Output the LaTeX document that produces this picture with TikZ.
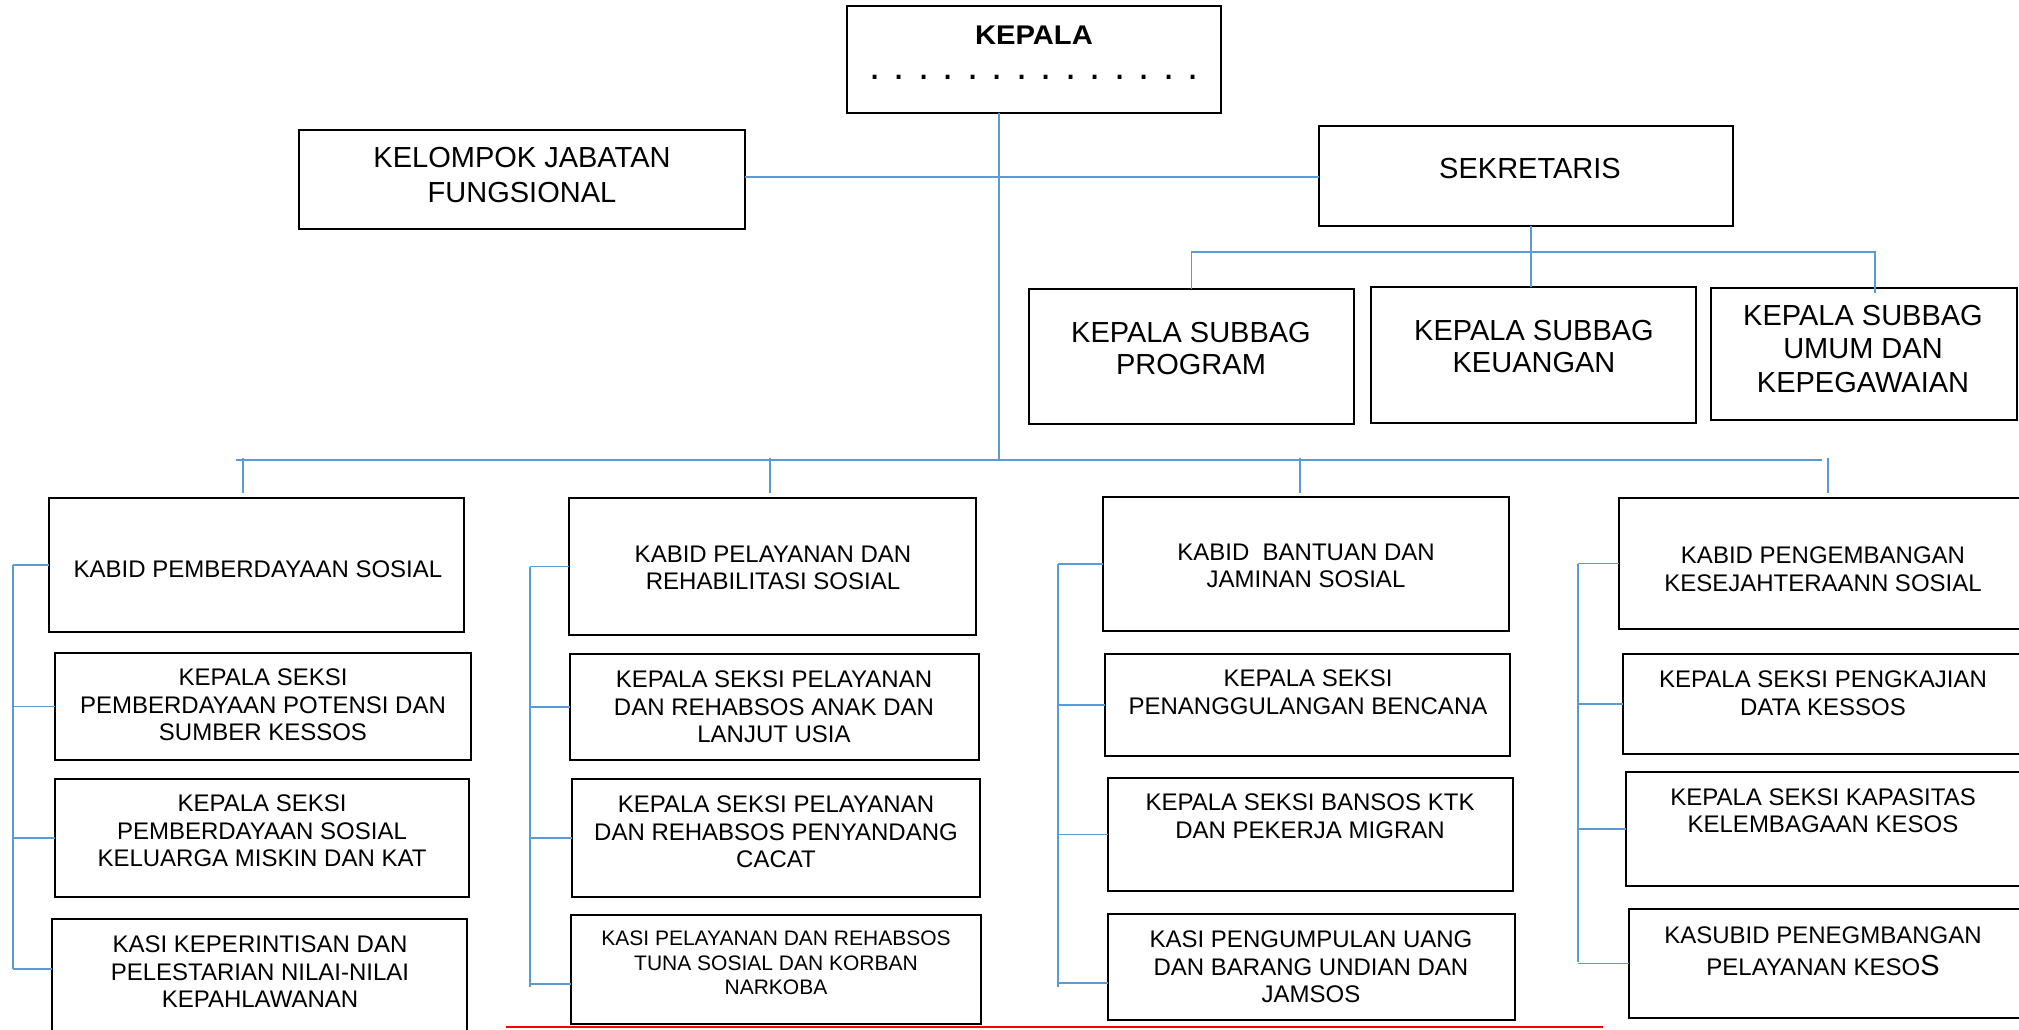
\documentclass[tikz,border=0pt]{standalone}
\usepackage{fontspec}
\setmainfont{Liberation Sans}
\definecolor{conblue}{HTML}{5B9BD5}
\definecolor{redline}{HTML}{FF0000}
\newcommand\mkbox[5]{\node[box, anchor=north west, minimum width={(#4)-(#2)}, minimum height={(#5)-(#3)}] (#1) at (#2,#3) {};}
\newcommand\dsp{\hspace{13.4pt}}
\begin{document}
\begin{tikzpicture}[x=1pt,y=-1pt,
  box/.style={draw=black, line width=1.3pt, inner sep=0pt, outer sep=0pt},
  conn/.style={draw=conblue, line width=1.5pt},
  toptxt/.style={align=center, font=\fontsize{29}{33}\selectfont, inner sep=0pt},
  lowtxt/.style={align=center, font=\fontsize{24}{27.5}\selectfont, inner sep=0pt},
  smalltxt/.style={align=center, font=\fontsize{21}{24.5}\selectfont, inner sep=0pt}]
\useasboundingbox (0,0) rectangle (2019,1030);
\clip (0,0) rectangle (2019,1030);

% ---------- boxes ----------
\mkbox{kepala}{847}{6}{1221}{113}
\mkbox{kjf}{299}{130}{745}{229}
\mkbox{sek}{1319}{126}{1733}{226}
\mkbox{prog}{1029}{289}{1354}{424}
\mkbox{keu}{1371}{287}{1696}{423}
\mkbox{umum}{1711}{288}{2017}{420}

\mkbox{c1k}{49}{498}{464}{632}
\mkbox{c1a}{55}{653}{471}{760}
\mkbox{c1b}{55}{779}{469}{897}
\mkbox{c1c}{52}{919}{467}{1045}

\mkbox{c2k}{569}{498}{976}{635}
\mkbox{c2a}{570}{654}{979}{760}
\mkbox{c2b}{572}{779}{980}{897}
\mkbox{c2c}{571}{915}{981}{1024}

\mkbox{c3k}{1103}{497}{1509}{631}
\mkbox{c3a}{1105}{654}{1510}{756}
\mkbox{c3b}{1108}{778}{1513}{891}
\mkbox{c3c}{1108}{914}{1515}{1020}

\mkbox{c4k}{1619}{498}{2030}{629}
\mkbox{c4a}{1623}{654}{2030}{754}
\mkbox{c4b}{1626}{772}{2030}{886}
\mkbox{c4c}{1629}{909}{2030}{1018}

% ---------- texts ----------
\node[inner sep=0pt, font=\fontsize{27}{30}\selectfont\bfseries] (tkepala) at (1034,35) {\scalebox{1.08}[1]{KEPALA}};
\node[inner sep=0pt, anchor=base, font=\fontsize{40}{40}\selectfont] (tdots) at (1034,80) {.\dsp.\dsp.\dsp.\dsp.\dsp.\dsp.\dsp.\dsp.\dsp.\dsp.\dsp.\dsp.\dsp.};
\node[toptxt, font=\fontsize{29}{35}\selectfont] (tkjf) at (522,175.5) {KELOMPOK JABATAN\\FUNGSIONAL};
\node[toptxt] (tsek) at (1530,169) {SEKRETARIS};
\node[toptxt, font=\fontsize{29}{32}\selectfont] (tprog) at (1191,349) {KEPALA SUBBAG\\PROGRAM};
\node[toptxt, font=\fontsize{29}{32}\selectfont] (tkeu) at (1534,347) {KEPALA SUBBAG\\KEUANGAN};
\node[toptxt, font=\fontsize{29}{33.5}\selectfont] (tumum) at (1863,349) {KEPALA SUBBAG\\UMUM DAN\\KEPEGAWAIAN};

\node[lowtxt] (tc1k) at (258,569) {KABID PEMBERDAYAAN SOSIAL};
\node[lowtxt] (tc1a) at (263,705) {KEPALA SEKSI\\PEMBERDAYAAN POTENSI DAN\\SUMBER KESSOS};
\node[lowtxt] (tc1b) at (262,831) {KEPALA SEKSI\\PEMBERDAYAAN SOSIAL\\KELUARGA MISKIN DAN KAT};
\node[lowtxt] (tc1c) at (260,972) {KASI KEPERINTISAN DAN\\PELESTARIAN NILAI-NILAI\\KEPAHLAWANAN};

\node[lowtxt] (tc2k) at (773,568) {KABID PELAYANAN DAN\\REHABILITASI SOSIAL};
\node[lowtxt] (tc2a) at (774,707) {KEPALA SEKSI PELAYANAN\\DAN REHABSOS ANAK DAN\\LANJUT USIA};
\node[lowtxt] (tc2b) at (776,832) {KEPALA SEKSI PELAYANAN\\DAN REHABSOS PENYANDANG\\CACAT};
\node[smalltxt] (tc2c) at (776,963) {KASI PELAYANAN DAN REHABSOS\\TUNA SOSIAL DAN KORBAN\\NARKOBA};

\node[lowtxt] (tc3k) at (1306,566) {KABID\ \ BANTUAN DAN\\JAMINAN SOSIAL};
\node[lowtxt] (tc3a) at (1308,692) {KEPALA SEKSI\\PENANGGULANGAN BENCANA};
\node[lowtxt] (tc3b) at (1310,816) {KEPALA SEKSI BANSOS KTK\\DAN PEKERJA MIGRAN};
\node[lowtxt] (tc3c) at (1311,967) {KASI PENGUMPULAN UANG\\DAN BARANG UNDIAN DAN\\JAMSOS};

\node[lowtxt] (tc4k) at (1823,569) {KABID PENGEMBANGAN\\KESEJAHTERAANN SOSIAL};
\node[lowtxt] (tc4a) at (1823,693) {KEPALA SEKSI PENGKAJIAN\\DATA KESSOS};
\node[lowtxt] (tc4b) at (1823,810.5) {KEPALA SEKSI KAPASITAS\\KELEMBAGAAN KESOS};
\node[lowtxt, font=\fontsize{24}{32}\selectfont] (tc4c) at (1823,951) {KASUBID PENEGMBANGAN\\PELAYANAN KESO{\fontsize{29}{29}\selectfont S}};

% ---------- connectors ----------
\coordinate (bus) at (999,460);
\coordinate (busL) at (236,460);
\coordinate (busR) at (1822,460);
\coordinate (ks) at (0,177);
\coordinate (sb) at (1531,252);
\coordinate (sbr) at (1875,252);
\coordinate (umumin) at (1875,293);

\draw[conn] (bus |- kepala.south) -- (bus);
\draw[conn] (kjf.east |- ks) -- (sek.west |- ks);
\draw[conn] (sb |- sek.south) -- (sb |- keu.north);
\draw[conn] (prog.north) -- (prog.north |- sb) -- (sbr) -- (umumin);

\draw[conn] (busL) -- (busR);
\coordinate (d1) at (243,458);
\coordinate (d2) at (770,458);
\coordinate (d3) at (1300,458);
\coordinate (d4) at (1828,458);
\foreach \d in {d1,d2,d3,d4} \draw[conn] (\d) -- ++(0,35);

% column 1
\coordinate (sp1) at (13,0);
\coordinate (e1) at (13,969);
\draw[conn] (sp1 |- c1k.west) -- (e1);
\draw[conn] (sp1 |- c1k.west) -- (c1k.west);
\draw[conn] (sp1 |- c1a.west) -- (c1a.west);
\draw[conn] (sp1 |- c1b.west) -- (c1b.west);
\draw[conn] (e1) -- (c1c.west |- e1);
% column 2
\coordinate (sp2) at (530,0);
\coordinate (e2) at (530,987);
\coordinate (f2) at (530,984);
\draw[conn] (sp2 |- c2k.west) -- (e2);
\draw[conn] (sp2 |- c2k.west) -- (c2k.west);
\draw[conn] (sp2 |- c2a.west) -- (c2a.west);
\draw[conn] (sp2 |- c2b.west) -- (c2b.west);
\draw[conn] (f2) -- (c2c.west |- f2);
% column 3
\coordinate (sp3) at (1058,0);
\coordinate (e3) at (1058,987);
\coordinate (f3) at (1058,983);
\draw[conn] (sp3 |- c3k.west) -- (e3);
\draw[conn] (sp3 |- c3k.west) -- (c3k.west);
\draw[conn] (sp3 |- c3a.west) -- (c3a.west);
\draw[conn] (sp3 |- c3b.west) -- (c3b.west);
\draw[conn] (f3) -- (c3c.west |- f3);
% column 4
\coordinate (sp4) at (1578,0);
\coordinate (e4) at (1578,962);
\draw[conn] (sp4 |- c4k.west) -- (e4);
\draw[conn] (sp4 |- c4k.west) -- (c4k.west);
\draw[conn] (sp4 |- c4a.west) -- (c4a.west);
\draw[conn] (sp4 |- c4b.west) -- (c4b.west);
\draw[conn] (sp4 |- c4c.west) -- (c4c.west);

% red line
\coordinate (rl) at (506,1027);
\coordinate (rr) at (1603,1027);
\draw[draw=redline, line width=2.5pt] (rl) -- (rr);
\end{tikzpicture}
\end{document}
